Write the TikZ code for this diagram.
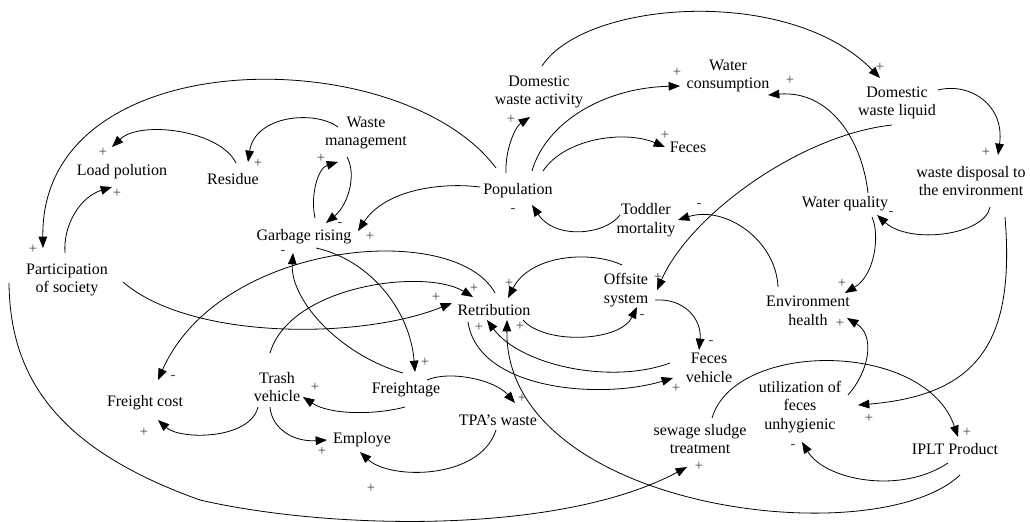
\documentclass[tikz,border=0pt]{standalone}
\usepackage{fontspec}
\setmainfont{Liberation Serif}
\usetikzlibrary{arrows.meta,calc}
\newcommand\cldfont{\rmfamily\fontsize{12}{14}\selectfont}
\newcommand\polfont{\rmfamily\fontsize{11}{13}\selectfont}
\begin{document}
\begin{tikzpicture}[x=0.75pt,y=-0.75pt,
  var/.style={align=center,inner sep=1pt,font=\cldfont},
  pol/.style={inner sep=0pt,font=\polfont,text=black!75},
  arr/.style={-{Triangle[length=8.5pt,width=6.5pt]},line width=0.6pt}]
\useasboundingbox (0,0) rectangle (1030,521);
% nodes
\node[var] (lp) at (122,172) {Load polution};
\node[var] (res) at (233,179) {Residue};
\node[var] (wm) at (366,133) {Waste\\management};
\node[var] (gr) at (304,237) {Garbage rising};
\node[var] (pop) at (518,191) {Population};
\node[var] (dwa) at (539,92) {Domestic\\waste activity};
\node[var] (wc) at (728,76) {Water\\consumption};
\node[var] (fe) at (688,147) {Feces};
\node[var] (dwl) at (897,103) {Domestic\\waste liquid};
\node[var] (wd) at (971,181) {waste disposal to\\the environment};
\node[var] (wq) at (845,204) {Water quality};
\node[var] (tm) at (646,220) {Toddler\\mortality};
\node[var] (ps) at (67,280) {Participation\\of society};
\node[var] (ret) at (494,310) {Retribution};
\node[var] (os) at (626,290) {Offsite\\system};
\node[var] (eh) at (808,311) {Environment\\health};
\node[var] (fv) at (709,368) {Feces\\vehicle};
\node[var] (tv) at (277,387) {Trash\\vehicle};
\node[var] (frt) at (406,390) {Freightage};
\node[var] (fc) at (145,403) {Freight cost};
\node[var] (tpa) at (498,420) {TPA's waste};
\node[var] (emp) at (362,440) {Employe};
\node[var] (ufu) at (800,407) {utilization of\\feces\\unhygienic};
\node[var] (sst) at (700,439) {sewage sludge\\treatment};
\node[var] (iplt) at (955,449) {IPLT Product};
% connectors
\draw[arr] ($(pop)+(-12,-18)$) .. controls (505,150) and (515,127) .. ($(dwa)+(-9,25)$);
\draw[arr] ($(pop)+(14,-20)$) .. controls (545,125) and (600,88) .. ($(wc)+(-48,10)$);
\draw[arr] ($(pop)+(25,-20)$) .. controls (565,138) and (625,130) .. ($(fe)+(-23,0)$);
\draw[arr] ($(dwa)+(3,-26)$) .. controls (585,0) and (790,-15) .. ($(dwl)+(-17,-25)$);
\draw[arr] ($(dwl)+(41,-13)$) .. controls (970,82) and (1005,105) .. ($(wd)+(27,-26)$);
\draw[arr] ($(wd)+(19,26)$) .. controls (985,235) and (910,245) .. ($(wq)+(32,11)$);
\draw[arr] ($(wq)+(23,-11)$) .. controls (862,140) and (830,90) .. ($(wc)+(40,19)$);
\draw[arr] ($(wq)+(27,13)$) .. controls (880,235) and (875,275) .. ($(eh)+(37,-18)$);
\draw[arr] ($(dwl)+(-5,22)$) .. controls (800,135) and (690,215) .. ($(os)+(31,0)$);
\draw[arr] ($(eh)+(-30,-24)$) .. controls (776,240) and (725,205) .. ($(tm)+(32,0)$);
\draw[arr] ($(tm)+(-26,-5)$) .. controls (605,235) and (555,240) .. ($(pop)+(14,14)$);
\draw[arr] ($(pop)+(-38,-4)$) .. controls (440,182) and (385,190) .. ($(gr)+(54,-6)$);
\draw[arr] ($(pop)+(-22,-23)$) .. controls (400,40) and (40,40) .. ($(ps)+(-24,-32)$);
\draw[arr] ($(ps)+(-2,-27)$) .. controls (63,225) and (80,197) .. ($(lp)+(-10,15)$);
\draw[arr] ($(res)+(3,-16)$) .. controls (220,130) and (140,120) .. ($(lp)+(-10,-25)$);
\draw[arr] ($(wm)+(-28,-6)$) .. controls (315,110) and (255,115) .. ($(res)+(15,-17)$);
\draw[arr] ($(gr)+(11,-19)$) .. controls (310,195) and (318,168) .. ($(wm)+(-28,29)$);
\draw[arr] ($(wm)+(-19,24)$) .. controls (357,175) and (348,205) .. ($(gr)+(22,-14)$);
\draw[arr] ($(frt)+(-3,-17)$) .. controls (340,355) and (290,300) .. ($(gr)+(-11,16)$);
\draw[arr] ($(gr)+(12,11)$) .. controls (370,260) and (410,310) .. ($(frt)+(9,-18)$);
\draw[arr] ($(tv)+(-7,-34)$) .. controls (290,285) and (425,268) .. ($(ret)+(-21,-13)$);
\draw[arr] ($(ps)+(56,2)$) .. controls (190,340) and (360,340) .. ($(ret)+(-42,-7)$);
\draw[arr] ($(ret)+(1,-17)$) .. controls (455,220) and (220,240) .. ($(fc)+(13,-23)$);
\draw[arr] ($(tv)+(-19,20)$) .. controls (250,440) and (180,440) .. ($(fc)+(13,17)$);
\draw[arr] ($(tv)+(-7,20)$) .. controls (272,430) and (295,442) .. ($(emp)+(-35,0)$);
\draw[arr] ($(frt)+(-1,17)$) .. controls (375,415) and (330,415) .. ($(tv)+(26,10)$);
\draw[arr] ($(frt)+(21,-10)$) .. controls (450,370) and (495,380) .. ($(tpa)+(17,-17)$);
\draw[arr] ($(tpa)+(-2,10)$) .. controls (480,480) and (390,480) .. ($(emp)+(-2,12)$);
\draw[arr] ($(os)+(-4,-25)$) .. controls (590,250) and (530,255) .. ($(ret)+(14,-12)$);
\draw[arr] ($(ret)+(29,10)$) .. controls (545,345) and (620,342) .. ($(os)+(11,17)$);
\draw[arr] ($(os)+(29,10)$) .. controls (685,298) and (702,320) .. ($(fv)+(-10,-18)$);
\draw[arr] ($(ret)+(-26,12)$) .. controls (478,390) and (600,400) .. ($(fv)+(-36,10)$);
\draw[arr] ($(fv)+(-39,-5)$) .. controls (610,385) and (520,365) .. ($(ret)+(-7,10)$);
\draw[arr] ($(iplt)+(5,26)$) .. controls (875,555) and (505,510) .. ($(ret)+(13,10)$);
\draw[arr] ($(sst)+(12,-21)$) .. controls (735,340) and (925,340) .. ($(iplt)+(3,-12)$);
\draw[arr] ($(iplt)+(-7,14)$) .. controls (900,495) and (825,480) .. ($(ufu)+(2,35)$);
\draw[arr] ($(ufu)+(48,-12)$) .. controls (870,370) and (875,335) .. ($(eh)+(39,7)$);
\draw[arr] ($(wd)+(34,36)$) .. controls (1015,340) and (980,395) .. ($(ufu)+(58,-2)$);
\draw[arr] ($(ps)+(-58,3)$) .. controls (10,380) and (60,450) .. (200,500)
  .. controls (330,530) and (560,535) .. ($(sst)+(-13,28)$);
% polarities
\node[pol] (p1) at (511,119) {+};
\node[pol] (p2) at (677,72) {+};
\node[pol] (p3) at (665,135) {+};
\node[pol] (p4) at (880,67) {+};
\node[pol] (p5) at (986,152) {+};
\node[pol] (p6) at (891,213) {-};
\node[pol] (p7) at (790,80) {+};
\node[pol] (p8) at (842,283) {+};
\node[pol] (p9) at (658,277) {+};
\node[pol] (p10) at (699,205) {-};
\node[pol] (p11) at (513,210) {-};
\node[pol] (p12) at (370,236) {+};
\node[pol] (p13) at (33,249) {+};
\node[pol] (p14) at (117,193) {+};
\node[pol] (p15) at (103,152) {+};
\node[pol] (p16) at (258,163) {+};
\node[pol] (p17) at (321,158) {+};
\node[pol] (p18) at (340,224) {-};
\node[pol] (p19) at (283,252) {-};
\node[pol] (p20) at (425,362) {+};
\node[pol] (p21) at (474,288) {+};
\node[pol] (p22) at (436,297) {+};
\node[pol] (p23) at (173,377) {-};
\node[pol] (p24) at (144,432) {+};
\node[pol] (p25) at (322,451) {+};
\node[pol] (p26) at (315,387) {+};
\node[pol] (p27) at (522,398) {+};
\node[pol] (p28) at (371,488) {+};
\node[pol] (p29) at (509,283) {+};
\node[pol] (p30) at (642,316) {-};
\node[pol] (p31) at (711,342) {-};
\node[pol] (p32) at (676,388) {+};
\node[pol] (p33) at (479,327) {+};
\node[pol] (p34) at (520,326) {+};
\node[pol] (p35) at (967,432) {+};
\node[pol] (p36) at (793,446) {-};
\node[pol] (p37) at (840,323) {+};
\node[pol] (p38) at (869,418) {+};
\node[pol] (p39) at (699,466) {+};
\end{tikzpicture}
\end{document}
